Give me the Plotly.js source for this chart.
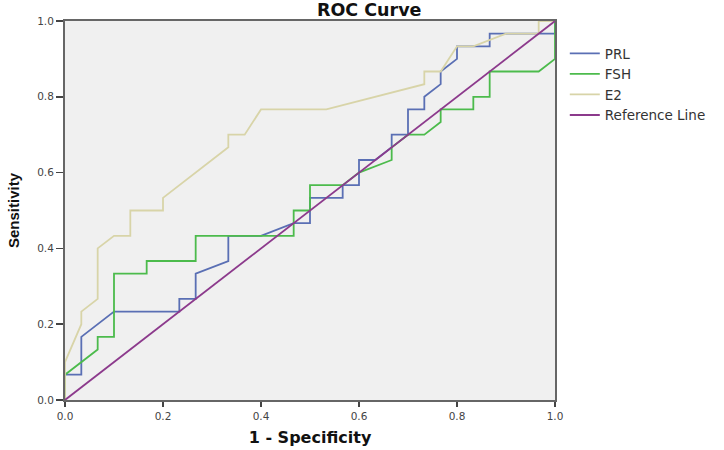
<!DOCTYPE html>
<html>
<head>
<meta charset="utf-8">
<script src="https://cdn.plot.ly/plotly-3.0.1.min.js"></script>
<style>
  html, body { margin: 0; padding: 0; background: #ffffff; }
  #chart { width: 724px; height: 450px; }
</style>
</head>
<body>
<div id="chart"></div>
<script>
// ROC curve points (1 - Specificity, Sensitivity)
const seriesNames = ["PRL", "FSH", "E2", "Reference Line"];

const prlX = [0, 0, 0.0333, 0.0333, 0.1, 0.2333, 0.2333, 0.2667, 0.2667, 0.3333, 0.3333, 0.4, 0.4667, 0.5, 0.5, 0.5667, 0.5667, 0.6, 0.6, 0.6333, 0.6667, 0.6667, 0.7, 0.7, 0.7333, 0.7333, 0.7667, 0.7667, 0.8, 0.8, 0.8667, 0.8667, 1, 1];
const prlY = [0, 0.0667, 0.0667, 0.1667, 0.2333, 0.2333, 0.2667, 0.2667, 0.3333, 0.3667, 0.4333, 0.4333, 0.4667, 0.4667, 0.5333, 0.5333, 0.5667, 0.5667, 0.6333, 0.6333, 0.6667, 0.7, 0.7, 0.7667, 0.7667, 0.8, 0.8333, 0.8667, 0.9, 0.9333, 0.9333, 0.9667, 0.9667, 1];

const fshX = [0, 0, 0.0667, 0.0667, 0.1, 0.1, 0.1667, 0.1667, 0.2667, 0.2667, 0.4667, 0.4667, 0.5, 0.5, 0.5667, 0.6, 0.6667, 0.6667, 0.7, 0.7333, 0.7667, 0.7667, 0.8333, 0.8333, 0.8667, 0.8667, 0.9667, 1, 1];
const fshY = [0, 0.0667, 0.1333, 0.1667, 0.1667, 0.3333, 0.3333, 0.3667, 0.3667, 0.4333, 0.4333, 0.5, 0.5, 0.5667, 0.5667, 0.6, 0.6333, 0.6667, 0.7, 0.7, 0.7333, 0.7667, 0.7667, 0.8, 0.8, 0.8667, 0.8667, 0.9, 1];

const e2X = [0, 0, 0.0333, 0.0333, 0.0667, 0.0667, 0.1, 0.1333, 0.1333, 0.2, 0.2, 0.3333, 0.3333, 0.3667, 0.4, 0.5333, 0.7333, 0.7333, 0.7667, 0.8, 0.8333, 0.9, 0.9667, 0.9667, 1];
const e2Y = [0, 0.1, 0.2, 0.2333, 0.2667, 0.4, 0.4333, 0.4333, 0.5, 0.5, 0.5333, 0.6667, 0.7, 0.7, 0.7667, 0.7667, 0.8333, 0.8667, 0.8667, 0.9333, 0.9333, 0.9667, 0.9667, 1, 1];

const refX = [0, 1];
const refY = [0, 1];

const tickVals = [0, 0.2, 0.4, 0.6, 0.8, 1.0];
const tickLabels = ["0.0", "0.2", "0.4", "0.6", "0.8", "1.0"];

const colors = ["#5a6fb4", "#4cbb4c", "#d8d4a8", "#8c3a8c"];
const xs = [prlX, fshX, e2X, refX];
const ys = [prlY, fshY, e2Y, refY];

const traces = seriesNames.map((name, i) => ({
  type: "scatter",
  mode: "lines",
  name: name,
  x: xs[i],
  y: ys[i],
  line: { color: colors[i], width: 1.8 },
  hoverinfo: "skip"
}));

const axisCommon = {
  range: [0, 1],
  tickmode: "array",
  tickvals: tickVals,
  ticktext: tickLabels,
  ticks: "outside",
  tickcolor: "#444",
  tickwidth: 1.5,
  showgrid: false,
  zeroline: false,
  showline: true,
  mirror: true,
  linecolor: "#666",
  linewidth: 2,
  tickfont: { family: "DejaVu Sans", size: 10.5, color: "#444" },
  fixedrange: true
};

const layout = {
  width: 724,
  height: 450,
  margin: { l: 65, r: 169, t: 21, b: 50, pad: 0 },
  paper_bgcolor: "#ffffff",
  plot_bgcolor: "#f0f0f0",
  title: {
    text: "<b>ROC Curve</b>",
    font: { family: "DejaVu Sans", size: 17.5, color: "#111" },
    xref: "container", x: 0.51, xanchor: "center",
    yref: "container", y: 0.978, yanchor: "middle"
  },
  xaxis: Object.assign({}, axisCommon, {
    ticklen: 5,
    title: {
      text: "<b>1 - Specificity</b>",
      font: { family: "DejaVu Sans", size: 16, color: "#111" },
      standoff: 11
    }
  }),
  yaxis: Object.assign({}, axisCommon, {
    ticklen: 7,
    title: {
      text: "<b>Sensitivity</b>",
      font: { family: "Liberation Sans", size: 15, color: "#111" },
      standoff: 14
    }
  }),
  showlegend: true,
  legend: {
    x: 1.02, xanchor: "left",
    y: 0.955, yanchor: "top",
    font: { family: "DejaVu Sans", size: 13.5, color: "#333" },
    bgcolor: "rgba(0,0,0,0)",
    borderwidth: 0,
    tracegroupgap: 0
  }
};

Plotly.newPlot("chart", traces, layout, { staticPlot: true, displayModeBar: false });
</script>
</body>
</html>
